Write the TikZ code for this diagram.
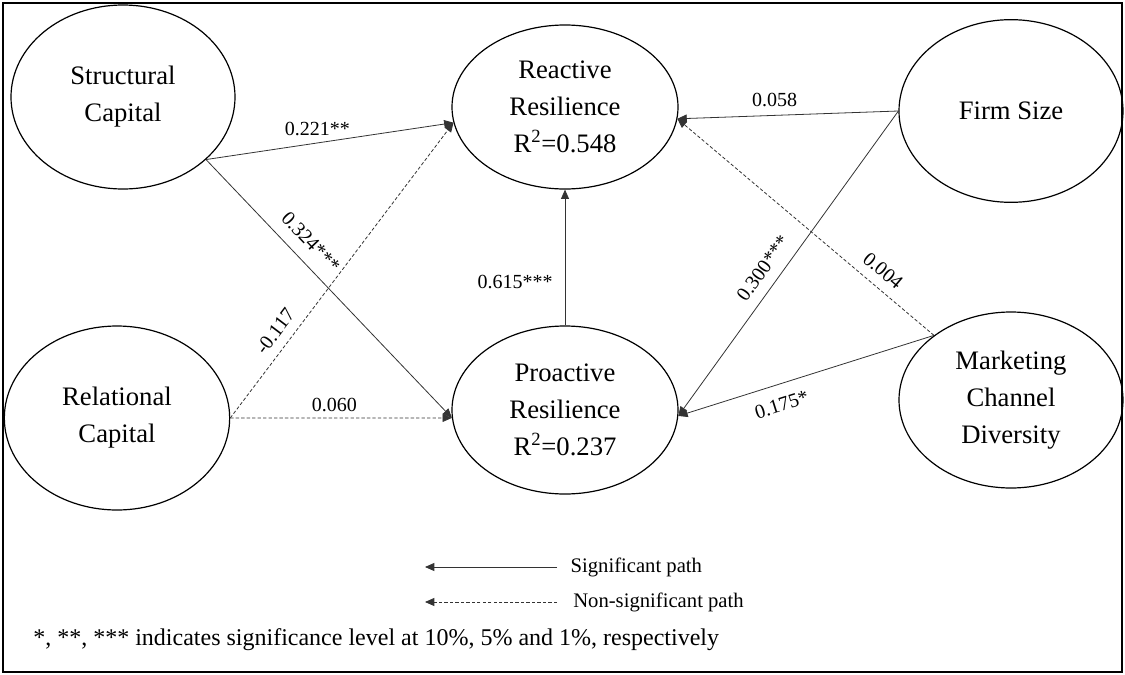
\documentclass[tikz,border=0pt]{standalone}
\usepackage{fontspec}
\setmainfont{Liberation Serif}
\usetikzlibrary{shapes.geometric,arrows.meta}

\begin{document}
\begin{tikzpicture}[x=0.75pt,y=-0.75pt,
  latent/.style={ellipse,draw,line width=0.9pt,align=center,inner sep=0pt,font=\fontsize{20}{27.75}\selectfont},
  sig/.style={draw=black!80,line width=0.6pt,-{Triangle[length=7pt,width=6pt]}},
  nsig/.style={sig,dash pattern=on 2.5pt off 1.6pt},
  coef/.style={font=\fontsize{15}{17}\selectfont,inner sep=2pt},
  legend/.style={font=\fontsize{15.5}{18}\selectfont,inner sep=0pt}]
\useasboundingbox (0,0) rectangle (1125,675);
%Shape: Rectangle
\draw [line width=1.4pt] (3,3) rectangle (1122,672);

%Shape: Ellipse
\node [latent,minimum width=168pt,minimum height=138pt] (sc) at (123,97) {Structural\\Capital};
%Shape: Ellipse
\node [latent,minimum width=169.5pt,minimum height=123pt] (rr) at (565,107) {Reactive\\Resilience\\R\textsuperscript{2}=0.548};
%Shape: Ellipse
\node [latent,minimum width=168pt,minimum height=137pt] (fs) at (1011,111) {Firm Size};
%Shape: Ellipse
\node [latent,minimum width=169pt,minimum height=138pt] (rl) at (117,418) {Relational\\Capital};
%Shape: Ellipse
\node [latent,minimum width=169.5pt,minimum height=126pt] (pr) at (565,410) {Proactive\\Resilience\\R\textsuperscript{2}=0.237};
%Shape: Ellipse
\node [latent,minimum width=168pt,minimum height=132pt] (mc) at (1011,400) {Marketing\\Channel\\Diversity};

%Straight Lines
\draw [sig] (sc.-37) -- node [coef,above=3pt,pos=0.45] {0.221**} (rr.188);
\draw [sig] (sc.-37) -- node [coef,sloped,above=7pt,pos=0.37] {0.324***} (pr.184);
\draw [nsig] (rl.east) -- node [coef,sloped,above=5pt,pos=0.26] {-0.117} (rr.188);
\draw [nsig] (rl.east) -- node [coef,above=2pt,pos=0.47] {0.060} (pr.184);
\draw [sig] (pr.north) -- node [coef,left=7pt,pos=0.32] {0.615***} (rr.south);
\draw [sig] (fs.west) -- node [coef,above=4pt,pos=0.56] {0.058} (rr.-6);
\draw [sig] (fs.west) -- node [coef,sloped,above=6pt,pos=0.55] {0.300***} (pr.-3);
\draw [nsig] (mc.140) -- node [coef,sloped,above=5pt,pos=0.24] {0.004} (rr.-6);
\draw [sig] (mc.140) -- node [coef,sloped,below=8pt,pos=0.62] {0.175*} (pr.-3);

% Text Node
\node [legend,anchor=west,inner xsep=10pt] (sigtxt) at (557,567) {Significant path};
\coordinate (sigend) at (425,567);
\draw [sig] (sigtxt.west) -- (sigend);
% Text Node
\node [legend,anchor=west,inner xsep=12pt] (nsigtxt) at (557,602) {Non-significant path};
\coordinate (nsigend) at (425,602);
\draw [nsig] (nsigtxt.west) -- (nsigend);
% Text Node
\node [anchor=west,inner sep=0pt,font=\fontsize{18}{21}\selectfont] (note) at (33,640) {*, **, *** indicates significance level at 10\%, 5\% and 1\%, respectively};
\end{tikzpicture}
\end{document}
